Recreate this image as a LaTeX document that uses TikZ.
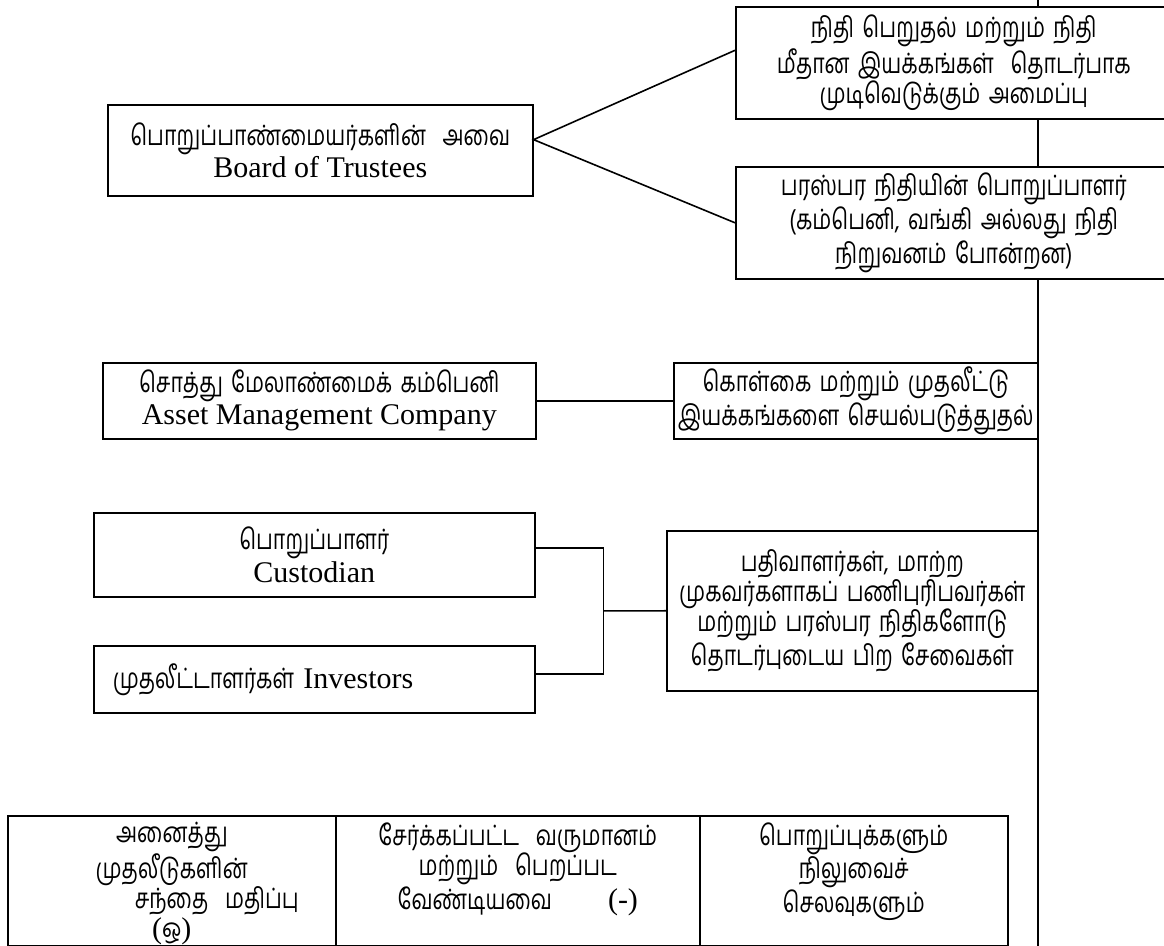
\documentclass[tikz,border=0pt]{standalone}
\usepackage{fontspec}
\setmainfont{Liberation Serif}
\newfontfamily\tamilfont[Script=Tamil, FakeStretch=0.76, WordSpace=1.6]{Hind Madurai}
\usetikzlibrary{calc}
% Latin words set in the serif face at body size
\newcommand\eng[1]{{\rmfamily\fontsize{15}{15}\selectfont #1}}

\begin{document}
\begin{tikzpicture}[x=0.5pt,y=-0.5pt,
  box/.style={draw, line width=0.8pt, fill=white, rectangle, inner sep=0pt,
    anchor=north west, align=center, font=\tamilfont\fontsize{14}{15}\selectfont},
  cell/.style={draw, line width=0.8pt, rectangle, inner sep=0pt, anchor=north west,
    minimum height=65pt},
  celltext/.style={anchor=north, inner sep=0pt, align=center,
    font=\tamilfont\fontsize{14}{15}\selectfont},
  link/.style={line width=0.8pt}]
\useasboundingbox (0,0) rectangle (1164,946);
\clip (0,0) rectangle (1164,946);
\fill[white] (0,0) rectangle (1164,946);

% vertical spine on the right
\draw[link] (1038,0) coordinate (spinetop) -- (1038,946) coordinate (spinebot);

% trustees and what they delegate
\node[box, minimum width=212.5pt, minimum height=45.5pt] (board) at (107,104)
  {பொறுப்பாண்மையர்களின்\ \ அவை\\ \eng{Board of Trustees}};
\node[box, minimum width=218pt, minimum height=56pt] (decide) at (735,6)
  {நிதி பெறுதல் மற்றும் நிதி\\ மீதான இயக்கங்கள்\ \ தொடர்பாக\\ முடிவெடுக்கும் அமைப்பு};
\node[box, minimum width=218pt, minimum height=56pt] (trustee) at (735,166)
  {பரஸ்பர நிதியின் பொறுப்பாளர்\\ (கம்பெனி, வங்கி அல்லது நிதி\\ நிறுவனம் போன்றன)};

% asset management company
\node[box, minimum width=216.5pt, minimum height=38pt,
  font=\tamilfont\fontsize{14}{16}\selectfont] (amc) at (102,362)
  {சொத்து மேலாண்மைக் கம்பெனி\\ \eng{Asset Management Company}};
\node[box, minimum width=182pt, minimum height=38pt] (policy) at (673,362)
  {கொள்கை மற்றும் முதலீட்டு\\ இயக்கங்களை செயல்படுத்துதல்};

% custodian, investors and other services
\node[box, minimum width=220.5pt, minimum height=42pt] (cust) at (93,512)
  {பொறுப்பாளர்\\ \eng{Custodian}};
\node[box, minimum height=33.5pt, inner xsep=9.5pt, text width=201.5pt, align=left]
  (inv) at (93,645) {முதலீட்டாளர்கள் \eng{Investors}};
\node[box, minimum width=185.5pt, minimum height=80pt] (serv) at (666,530)
  {பதிவாளர்கள், மாற்ற\\ முகவர்களாகப் பணிபுரிபவர்கள்\\ மற்றும் பரஸ்பர நிதிகளோடு\\ தொடர்புடைய பிற சேவைகள்};

% connectors
\coordinate (apex) at ($(board.north east)!0.385!(board.south east)$);
\draw[link] ($(decide.north west)!0.39!(decide.south west)$) -- (apex) -- (trustee.west);
\draw[link] (amc.east) -- (policy.west);
\coordinate (ca) at ($(cust.north east)!0.42!(cust.south east)$);
\coordinate (ia) at ($(inv.north east)!0.42!(inv.south east)$);
\draw[link] (ca) -- ++(68,0) coordinate (jt) -- (jt |- ia) coordinate (jb) -- (ia);
\draw[link] ($(jt)!0.5!(jb)$) -- (serv.west);

% net asset value table
\node[cell, minimum width=164pt] (c1) at (7,815) {};
\node[cell, minimum width=182pt] (c2) at (335,815) {};
\node[cell, minimum width=154pt] (c3) at (699,815) {};
\node[celltext] (t1) at ($(c1.north)+(0,7)$)
  {அனைத்து\\ முதலீடுகளின்\\ \hspace*{45pt}சந்தை\ \ மதிப்பு\\ \eng{(}ஒ\eng{)}};
\node[celltext] (t2) at ($(c2.north)+(0,7)$)
  {சேர்க்கப்பட்ட\ \ வருமானம்\\ மற்றும்\ \ பெறப்பட\\ வேண்டியவை\hspace{2em}\eng{(-)}};
\node[celltext] (t3) at ($(c3.north)+(0,7)$)
  {பொறுப்புக்களும்\\ நிலுவைச்\\ செலவுகளும்};
\end{tikzpicture}
\end{document}
